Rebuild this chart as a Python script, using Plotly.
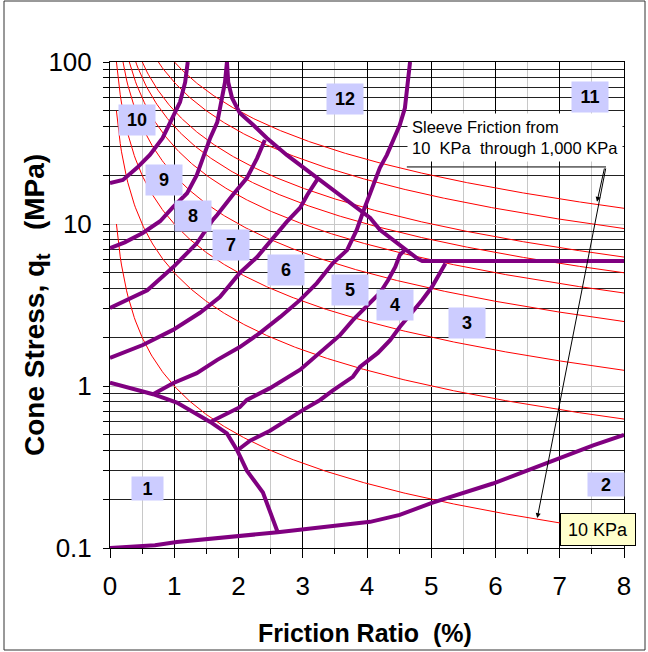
import numpy as np
import plotly.graph_objects as go

# Sleeve friction contours drawn across the chart (kPa)
sleeve_kpa = [10, 50, 100, 200, 300, 400, 500, 750, 1000]

# Zone boundaries: friction ratio Rf (%) and cone stress qt (MPa)
base_rf = [0.0, 0.70, 1.04, 1.98, 2.61, 4.05, 4.51, 5.01, 5.96, 6.49, 7.00, 7.52, 8.00]
base_q = [0.100, 0.104, 0.109, 0.118, 0.125, 0.145, 0.160, 0.190, 0.250, 0.300, 0.360, 0.430, 0.500]

zone1_rf = [0.0, 0.67, 1.04, 1.56, 1.82, 1.98, 2.13, 2.38, 2.61]
zone1_q = [1.05, 0.89, 0.79, 0.60, 0.51, 0.40, 0.30, 0.22, 0.125]

z10_rf = [0.0, 0.20, 0.42, 0.62, 0.82, 0.96, 1.09, 1.17, 1.21]
z10_q = [17.9, 18.7, 22.2, 26.7, 34.0, 43.9, 56.6, 75.0, 100.0]

z9_rf = [0.0, 0.23, 0.51, 0.78, 0.98, 1.20, 1.35, 1.45, 1.56, 1.67, 1.74, 1.79, 1.82]
z9_q = [7.1, 7.7, 8.8, 10.4, 12.7, 15.5, 20.0, 25.5, 34.0, 42.6, 60.0, 75.0, 100.0]

z12_rf = [1.82, 1.84, 1.90, 2.02, 2.23, 2.44, 2.75, 3.22, 3.63, 4.05, 4.20, 4.56, 4.79, 4.86, 8.00]
z12_q = [100.0, 75.0, 60.0, 48.4, 40.8, 34.0, 26.7, 19.2, 14.4, 10.9, 9.2, 7.1, 6.1, 5.9, 5.9]

z8_rf = [0.0, 0.58, 0.98, 1.35, 1.60, 1.67, 1.91, 2.13, 2.29, 2.41]
z8_q = [3.03, 3.9, 5.4, 7.6, 10.6, 11.4, 15.1, 19.2, 25.5, 33.0]

z7_rf = [0.0, 0.51, 0.98, 1.40, 1.71, 2.02, 2.29, 2.54, 2.75, 2.96, 3.07, 3.24]
z7_q = [1.49, 1.79, 2.22, 2.83, 3.54, 4.99, 6.25, 8.2, 10.3, 12.6, 15.1, 19.2]

z6_rf = [0.67, 0.98, 1.35, 1.67, 2.02, 2.33, 2.65, 2.96, 3.22, 3.47, 3.69, 3.84,
         3.94, 4.09, 4.20, 4.31, 4.40, 4.51, 4.59, 4.64, 4.67]
z6_q = [0.89, 1.04, 1.20, 1.45, 1.74, 2.12, 2.67, 3.40, 4.32, 5.74, 6.9, 9.2,
        11.9, 16.7, 22.2, 26.7, 32.0, 40.8, 52.0, 83.0, 100.0]

z5_rf = [1.56, 2.02, 2.13, 2.49, 2.96, 3.27, 3.58, 3.78, 4.05, 4.20, 4.33, 4.44, 4.51, 4.59]
z5_q = [0.60, 0.74, 0.82, 0.97, 1.26, 1.60, 2.06, 2.55, 3.25, 3.75, 4.51, 5.43, 6.44, 6.9]

z4_rf = [1.98, 2.18, 2.49, 2.75, 3.00, 3.27, 3.47, 3.78, 3.89, 4.17, 4.36, 4.51, 4.67, 4.86, 5.01, 5.17, 5.22]
z4_q = [0.40, 0.46, 0.53, 0.62, 0.71, 0.82, 0.94, 1.14, 1.31, 1.60, 1.92, 2.31, 2.74, 3.40, 4.08, 5.2, 5.7]

boundaries = [
    (base_rf, base_q), (zone1_rf, zone1_q), (z10_rf, z10_q), (z9_rf, z9_q),
    (z12_rf, z12_q), (z8_rf, z8_q), (z7_rf, z7_q), (z6_rf, z6_q),
    (z5_rf, z5_q), (z4_rf, z4_q),
]

# Zone numbers and where they sit (Rf %, qt MPa)
zone_names = ["1", "2", "3", "4", "5", "6", "7", "8", "9", "10", "11", "12"]
zone_rf = [0.58, 7.72, 5.56, 4.44, 3.74, 2.74, 1.88, 1.29, 0.84, 0.42, 7.47, 3.66]
zone_q = [0.234, 0.245, 2.45, 3.16, 3.9, 5.2, 7.4, 11.2, 18.7, 43.9, 60.8, 59.0]

x_ticks = [0, 1, 2, 3, 4, 5, 6, 7, 8]
y_ticks = [0.1, 1, 10, 100]
y_tick_text = ["0.1", "1", "10", "100"]

FONT = "Arial, Liberation Sans, sans-serif"
PURPLE = "#800080"

# plot area in pixels (left, right, top, bottom)
L, R, T, B = 110, 624, 62, 548
W, H = 648, 652


def px_x(p):
    return (p - L) / (R - L)


def px_y(p):
    return (B - p) / (B - T)


fig = go.Figure()

# constant sleeve friction: qt = fs / Rf
rf_grid = np.linspace(0.1, 8.0, 400)
for fs in sleeve_kpa:
    fig.add_trace(go.Scatter(
        x=rf_grid, y=fs / (10.0 * rf_grid), mode="lines",
        line=dict(color="#ff0000", width=1), hoverinfo="skip", showlegend=False,
    ))

for rf, q in boundaries:
    fig.add_trace(go.Scatter(
        x=rf, y=q, mode="lines",
        line=dict(color=PURPLE, width=4), hoverinfo="skip", showlegend=False,
    ))

annotations = []
for name, rf, q in zip(zone_names, zone_rf, zone_q):
    small = name in ("1", "2")
    annotations.append(dict(
        x=rf, y=np.log10(q), xref="x", yref="y", text="<b>%s</b>" % name,
        showarrow=False, bgcolor="#ccccff", font=dict(family=FONT, size=18, color="black"),
        width=31 if name == "1" else 36, height=23 if small else 30, borderpad=0,
    ))

# sleeve friction note with its leader arrows
annotations.append(dict(
    x=4.62, y=np.log10(34.0), xref="x", yref="y", xanchor="left", yanchor="middle",
    text="Sleeve Friction from<br>10\u00a0\u00a0KPa\u00a0\u00a0through 1,000 KPa", align="left",
    showarrow=False, bgcolor="white", font=dict(family=FONT, size=16.5, color="black"),
    borderpad=4,
))
annotations.append(dict(
    x=7.58, y=np.log10(13.7), xref="x", yref="y", ax=7.70, ay=np.log10(22.5),
    axref="x", ayref="y", text="", showarrow=True, arrowhead=2, arrowsize=1,
    arrowwidth=1, arrowcolor="black",
))
annotations.append(dict(
    x=6.65, y=np.log10(0.153), xref="x", yref="y", ax=7.72, ay=np.log10(22.5),
    axref="x", ayref="y", text="", showarrow=True, arrowhead=2, arrowsize=1,
    arrowwidth=1, arrowcolor="black",
))
annotations.append(dict(
    x=7.60, y=np.log10(0.131), xref="x", yref="y", text="10 KPa", showarrow=False,
    bgcolor="#ffffcc", bordercolor="black", borderwidth=1, borderpad=0,
    width=74, height=31, font=dict(family=FONT, size=18, color="black"),
))

# axis titles
annotations.append(dict(
    x=px_x(365), y=px_y(633), xref="paper", yref="paper", showarrow=False,
    xanchor="center", yanchor="middle",
    text="<b>Friction Ratio\u00a0\u00a0(%)</b>", font=dict(family=FONT, size=25, color="black"),
))
annotations.append(dict(
    x=px_x(36), y=px_y(305), xref="paper", yref="paper", showarrow=False, textangle=-90,
    xanchor="center", yanchor="middle",
    text="<b>Cone Stress,\u00a0q<sub>t</sub>\u00a0\u00a0\u00a0(MPa)</b>",
    font=dict(family=FONT, size=28, color="black"),
))

shapes = [
    dict(type="line", xref="x", yref="y", x0=4.62, x1=7.72, y0=22.5, y1=22.5,
         line=dict(color="black", width=1)),
    # chart area frame
    dict(type="rect", xref="paper", yref="paper",
         x0=px_x(4), x1=px_x(645), y0=px_y(650), y1=px_y(1),
         line=dict(color="#333333", width=1), layer="below"),
]

fig.update_layout(
    width=W, height=H,
    margin=dict(l=L, r=W - R, t=T, b=H - B),
    paper_bgcolor="white", plot_bgcolor="white",
    font=dict(family=FONT, color="black"),
    annotations=annotations, shapes=shapes,
    showlegend=False,
)

fig.update_xaxes(
    range=[0, 8], tickvals=x_ticks, ticks="outside", ticklen=9, tickcolor="black",
    showgrid=True, gridcolor="black", gridwidth=1,
    minor=dict(dtick=0.5, ticks="outside", ticklen=5, tickcolor="black",
               showgrid=True, gridcolor="#c8c8c8", gridwidth=1),
    showline=True, linecolor="black", linewidth=1, mirror=True, zeroline=False,
    tickfont=dict(family=FONT, size=26), ticklabelstandoff=6, automargin=False,
)
fig.update_yaxes(
    type="log", range=[-1, 2], tickvals=y_ticks, ticktext=y_tick_text,
    ticks="outside", ticklen=6, tickcolor="black",
    showgrid=True, gridcolor="#c8c8c8", gridwidth=1,
    minor=dict(dtick="D1", ticks="outside", ticklen=6, tickcolor="black",
               showgrid=True, gridcolor="#222222", gridwidth=1),
    showline=True, linecolor="black", linewidth=1, mirror=True,
    tickfont=dict(family=FONT, size=26), ticklabelstandoff=6, automargin=False,
)

fig.write_html("out.html")
